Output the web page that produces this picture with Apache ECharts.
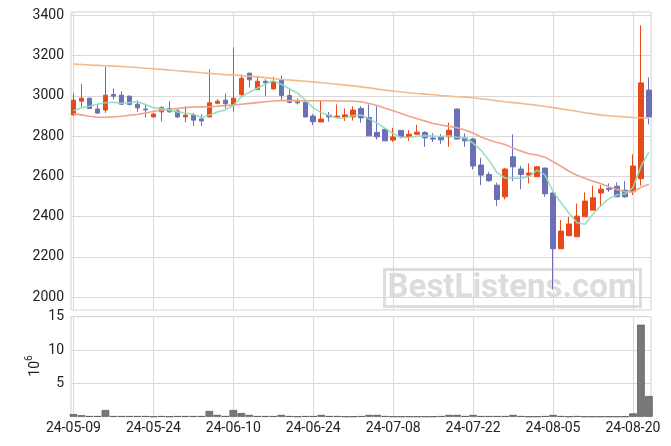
<!DOCTYPE html>
<html><head><meta charset="utf-8">
<script src="https://cdn.jsdelivr.net/npm/echarts@6/dist/echarts.min.js"></script>
<style>html,body{margin:0;padding:0;background:#fff}#c{width:671px;height:446px}</style>
</head><body><div id="c"></div><script>
const dates = ['24-05-09','24-05-10','24-05-13','24-05-14','24-05-16','24-05-17','24-05-20','24-05-21','24-05-22','24-05-23','24-05-24','24-05-27','24-05-28','24-05-29','24-05-30','24-05-31','24-06-03','24-06-04','24-06-05','24-06-07','24-06-10','24-06-11','24-06-12','24-06-13','24-06-14','24-06-17','24-06-18','24-06-19','24-06-20','24-06-21','24-06-24','24-06-25','24-06-26','24-06-27','24-06-28','24-07-01','24-07-02','24-07-03','24-07-04','24-07-05','24-07-08','24-07-09','24-07-10','24-07-11','24-07-12','24-07-15','24-07-16','24-07-17','24-07-18','24-07-19','24-07-22','24-07-23','24-07-24','24-07-25','24-07-26','24-07-29','24-07-30','24-07-31','24-08-01','24-08-02','24-08-05','24-08-06','24-08-07','24-08-08','24-08-09','24-08-12','24-08-13','24-08-14','24-08-16','24-08-19','24-08-20','24-08-21','24-08-22'];
const open  = [2905,2973,2988,2934,2929,3006,3003,2998,2958,2934,2895,2920,2937,2925,2895,2904,2885,2895,2963,2978,2955,3006,3112,3031,3072,3034,3081,3001,2970,2968,2899,2870,2904,2894,2894,2895,2937,2892,2818,2833,2780,2828,2796,2809,2818,2790,2796,2796,2934,2790,2785,2656,2609,2556,2498,2697,2636,2606,2598,2641,2517,2240,2305,2300,2399,2432,2517,2540,2551,2531,2523,2588,3028];
const close = [2978,2988,2937,2914,3003,2998,2958,2957,2940,2930,2909,2942,2920,2895,2904,2879,2875,2965,2973,2960,2988,3087,3079,3072,3064,3071,3001,2967,2965,2895,2871,2884,2895,2899,2905,2929,2890,2801,2796,2776,2795,2796,2809,2819,2791,2785,2781,2829,2785,2776,2651,2606,2578,2485,2636,2647,2609,2616,2647,2513,2240,2328,2363,2402,2477,2493,2536,2535,2498,2498,2651,3064,2895];
const low   = [2900,2945,2935,2909,2915,2982,2955,2952,2920,2892,2892,2872,2917,2889,2869,2849,2849,2893,2957,2937,2920,2992,3041,3028,2998,3031,2978,2962,2957,2893,2854,2869,2872,2889,2875,2877,2866,2801,2783,2776,2771,2788,2776,2808,2746,2771,2761,2746,2785,2746,2634,2556,2573,2452,2485,2576,2536,2565,2598,2498,2039,2240,2305,2300,2399,2432,2449,2523,2498,2493,2507,2553,2858];
const high  = [3012,3058,2990,2957,3143,3036,3023,3001,2978,2957,2915,2948,2973,2937,2948,2915,2909,3131,2982,3011,3240,3106,3116,3094,3082,3094,3101,3036,2987,2978,2909,2975,2920,2957,2937,2948,2948,2957,2948,2838,2841,2830,2829,2856,2824,2814,2809,2867,2937,2813,2791,2692,2622,2568,2642,2808,2652,2664,2652,2642,2520,2383,2399,2465,2520,2553,2556,2565,2570,2576,2709,3350,3091];
const ma5   = [2925,2940,2948,2958,2965,2968,2963,2966,2970,2957,2940,2936,2928,2920,2914,2908,2892,2904,2919,2930,2952,2995,3017,3037,3058,3075,3057,3035,3014,2980,2940,2916,2902,2889,2891,2902,2904,2885,2864,2838,2812,2793,2794,2799,2802,2800,2797,2801,2794,2791,2764,2729,2679,2619,2591,2590,2591,2599,2631,2606,2525,2469,2418,2369,2362,2413,2454,2489,2508,2512,2544,2649,2721];
const ma20  = [2910,2905,2898,2893,2893,2895,2898,2903,2907,2914,2922,2929,2933,2937,2941,2944,2945,2946,2948,2951,2954,2958,2962,2966,2970,2974,2976,2976,2976,2975,2975,2975,2975,2974,2974,2973,2970,2962,2952,2938,2925,2912,2898,2886,2874,2862,2855,2848,2841,2830,2815,2795,2780,2768,2758,2740,2725,2712,2706,2695,2672,2650,2625,2605,2590,2576,2563,2548,2535,2523,2522,2545,2561];
const ma120 = [3157,3155,3153,3151,3149,3147,3145,3143,3140,3137,3134,3131,3128,3124,3121,3118,3114,3111,3108,3105,3103,3100,3097,3094,3090,3085,3081,3078,3075,3072,3069,3065,3061,3057,3053,3049,3044,3039,3033,3028,3024,3019,3015,3011,3008,3005,3001,2998,2995,2993,2990,2985,2980,2975,2970,2966,2962,2957,2953,2947,2941,2935,2929,2923,2916,2910,2904,2901,2898,2895,2892,2891,2890];
const volume = [0.38,0.22,0.08,0.08,1.0,0.08,0.08,0.08,0.08,0.08,0.01,0.08,0.01,0.08,0.08,0.08,0.08,0.86,0.27,0.08,1.0,0.55,0.27,0.08,0.08,0.08,0.27,0.08,0.01,0.08,0.08,0.27,0.08,0.08,0.01,0.01,0.08,0.27,0.27,0.08,0.01,0.01,0.01,0.01,0.01,0.01,0.08,0.27,0.27,0.08,0.27,0.08,0.08,0.08,0.08,0.27,0.08,0.01,0.01,0.08,0.27,0.08,0.01,0.08,0.01,0.01,0.01,0.01,0.01,0.01,0.5,13.8,3.1];
const priceTicks = [2000,2200,2400,2600,2800,3000,3200,3400];
const dateTickIdx = [0,10,20,30,40,50,60,70];
const volUnit = '{a|10}{b|6}';

const candleData = dates.map((d,i)=>[i, open[i], close[i], low[i], high[i]]);
const toXY = arr => arr.map((v,i)=>[i,v]);
const FONT = 'Roboto';
const GRID_C = '#d9d9d9';

const xCommon = {
  type:'value', min:-0.31, max:72.26,
  axisLine:{show:false},
  axisTick:{show:false, customValues: dateTickIdx},
  splitLine:{show:true, lineStyle:{color:GRID_C, width:1}}
};

const chart = echarts.init(document.getElementById('c'), null, {renderer:'canvas', width:671, height:446});
chart.setOption({
  animation:false,
  backgroundColor:'#fff',
  grid:[
    {left:71, top:12, width:580, height:298, show:true, borderColor:'#d2d2d2', borderWidth:1},
    {left:71, top:316.7, width:580, height:100, show:true, borderColor:'#d2d2d2', borderWidth:1}
  ],
  xAxis:[
    Object.assign({}, xCommon, {gridIndex:0, axisLabel:{show:false, customValues: dateTickIdx}}),
    Object.assign({}, xCommon, {gridIndex:1, axisLabel:{show:true, customValues: dateTickIdx,
      formatter: v => dates[Math.round(v)] || '', fontFamily:FONT, fontSize:14, color:'#222', margin:5}})
  ],
  yAxis:[
    {type:'value', gridIndex:0, min:1936, max:3416,
     axisLine:{show:false}, axisTick:{show:false, customValues: priceTicks},
     axisLabel:{customValues: priceTicks, formatter: v => String(v), fontFamily:FONT, fontSize:14, color:'#222', margin:7},
     splitLine:{show:true, lineStyle:{color:GRID_C}}},
    {type:'value', gridIndex:1, min:0, max:15, interval:5,
     axisLine:{show:false}, axisTick:{show:false},
     axisLabel:{formatter: v => v===0 ? '' : String(v), fontFamily:FONT, fontSize:14, color:'#222', margin:7},
     splitLine:{show:true, lineStyle:{color:GRID_C}}}
  ],
  graphic:[
    {type:'text', x:33, y:366, rotation:Math.PI/2, silent:true,
     style:{text:volUnit, align:'center', verticalAlign:'middle', fill:'#222',
       rich:{a:{fontFamily:FONT, fontSize:14, fill:'#222', lineHeight:18, verticalAlign:'bottom'},
             b:{fontFamily:FONT, fontSize:10, fill:'#222', lineHeight:11, verticalAlign:'top'}}}},
    {type:'group', left:382, top:267, z:1, silent:true,
     children:[
      {type:'rect', shape:{x:1.5,y:1.5,width:256,height:37}, style:{fill:'none', stroke:'#dedede', lineWidth:3}},
      {type:'text', x:129, y:21, style:{text:'BestListens.com', font:'bold 33px Roboto', fill:'#dcdcdc', align:'center', verticalAlign:'middle'}}
     ]}
  ],
  series:[
    {type:'candlestick', xAxisIndex:0, yAxisIndex:0, data:candleData,
     encode:{x:0, y:[1,2,3,4]}, barWidth:5,
     itemStyle:{color:'#e64a19', color0:'#6b70b6', borderColor:'#e64a19', borderColor0:'#6b70b6', borderWidth:1}},
    {type:'line', xAxisIndex:0, yAxisIndex:0, data:toXY(ma120), showSymbol:false, symbol:'none',
     lineStyle:{color:'#f2b98c', width:1.6}},
    {type:'line', xAxisIndex:0, yAxisIndex:0, data:toXY(ma20), showSymbol:false, symbol:'none',
     lineStyle:{color:'#eea487', width:1.6}},
    {type:'line', xAxisIndex:0, yAxisIndex:0, data:toXY(ma5), showSymbol:false, symbol:'none',
     lineStyle:{color:'#8fdcbf', width:1.6, opacity:0.9}},
    {type:'bar', xAxisIndex:1, yAxisIndex:1, data:toXY(volume), barWidth:7.6,
     itemStyle:{color:'#787878', borderColor:'#555', borderWidth:0.7}}
  ]
});
</script></body></html>
